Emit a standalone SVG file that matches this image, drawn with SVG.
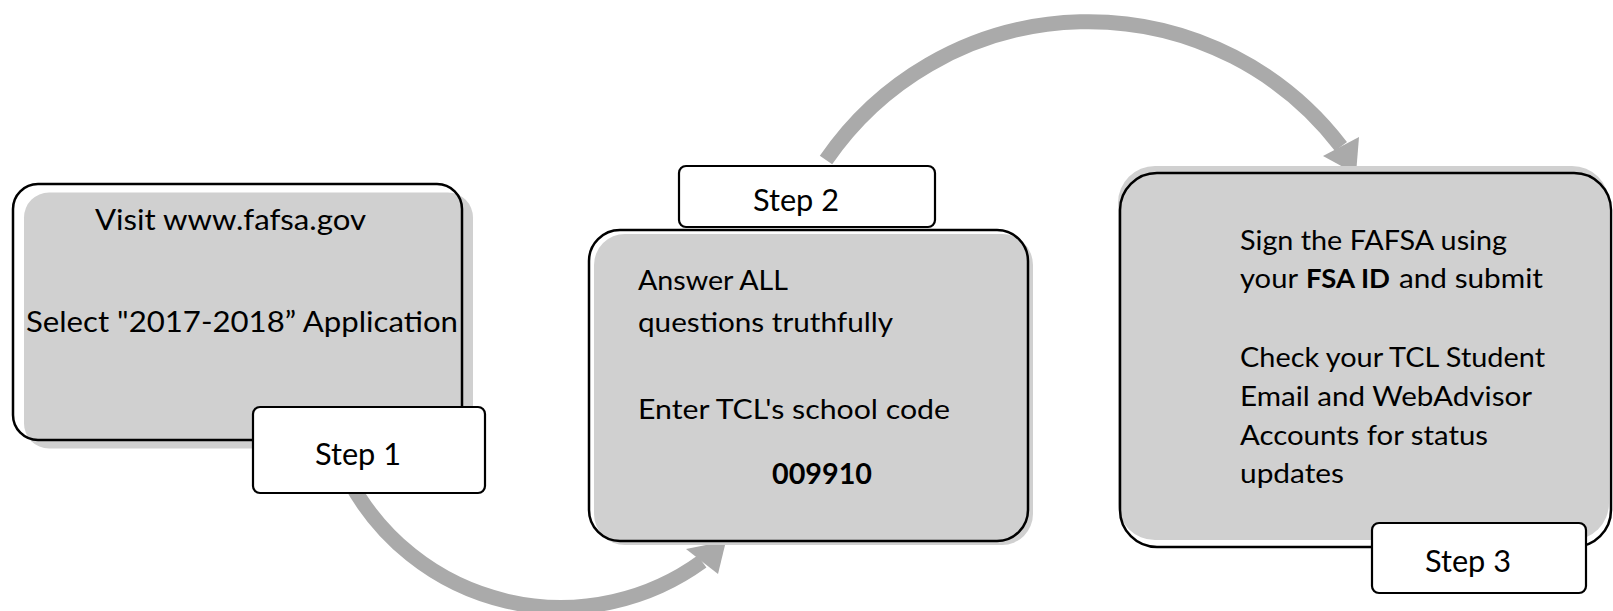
<svg xmlns="http://www.w3.org/2000/svg" width="1613" height="611" viewBox="0 0 1613 611">
<style>
.bg{fill:#ffffff}
.shade{fill:#D0D0D0;stroke:none}
.outline{fill:none;stroke:#000;stroke-width:2.5}
.step{fill:#ffffff;stroke:#000;stroke-width:2.2}
.arc{fill:none;stroke:#AAAAAA;stroke-width:15;stroke-linecap:butt}
.head{fill:#AAAAAA;stroke:none}
text{font-family:Lato,"Liberation Sans",sans-serif;fill:#000}
.t1{font-size:29px}
.t2{font-size:26px}
.ts{font-size:30px}
.b{font-weight:bold}
</style>
<rect class="bg" x="0" y="0" width="1613" height="611"/>
<g id="connectors">
<path class="arc" d="M349,480 A240,240 0 0 0 702,561.5"/>
<polygon class="head" points="686,549 726,541 718,574"/>
<path class="arc" d="M826,160 A318,318 0 0 1 1341,146.5"/>
<polygon class="head" points="1323,156 1359,137 1356,174"/>
</g>
<g id="node1">
<rect class="shade" x="24" y="192.5" width="449" height="256" rx="25"/>
<rect class="outline" x="13" y="184" width="449" height="256" rx="25"/>
<text class="t1" x="95" y="230" textLength="271" lengthAdjust="spacingAndGlyphs">Visit www.fafsa.gov</text>
<text class="t1" x="26" y="332" textLength="432" lengthAdjust="spacingAndGlyphs">Select "2017-2018” Application</text>
</g>
<g id="step1">
<rect class="step" x="253" y="407" width="232" height="86" rx="7"/>
<text class="ts" x="315" y="465" textLength="86" lengthAdjust="spacingAndGlyphs">Step 1</text>
</g>
<g id="node2">
<rect class="shade" x="594" y="234" width="439" height="311" rx="31"/>
<rect class="outline" x="589" y="230" width="439" height="311" rx="31"/>
<text class="t2" x="638" y="290" textLength="150" lengthAdjust="spacingAndGlyphs">Answer ALL</text>
<text class="t2" x="638" y="332" textLength="255" lengthAdjust="spacingAndGlyphs">questions truthfully</text>
<text class="t2" x="638" y="419" textLength="312" lengthAdjust="spacingAndGlyphs">Enter TCL's school code</text>
<text class="t1 b" x="772" y="484" textLength="100" lengthAdjust="spacingAndGlyphs">009910</text>
</g>
<g id="step2">
<rect class="step" x="679" y="166" width="256" height="61" rx="7"/>
<text class="ts" x="753" y="211" textLength="86" lengthAdjust="spacingAndGlyphs">Step 2</text>
</g>
<g id="node3">
<rect class="shade" x="1118" y="166" width="491" height="374" rx="37"/>
<rect class="outline" x="1120" y="173" width="491" height="374" rx="37"/>
<text class="t2" x="1240" y="250" textLength="267" lengthAdjust="spacingAndGlyphs">Sign the FAFSA using</text>
<text class="t2" x="1240" y="288" textLength="58" lengthAdjust="spacingAndGlyphs">your</text>
<text class="t2 b" x="1306" y="288" textLength="84" lengthAdjust="spacingAndGlyphs">FSA ID</text>
<text class="t2" x="1399" y="288" textLength="144" lengthAdjust="spacingAndGlyphs">and submit</text>
<text class="t2" x="1240" y="367" textLength="305" lengthAdjust="spacingAndGlyphs">Check your TCL Student</text>
<text class="t2" x="1240" y="406" textLength="292" lengthAdjust="spacingAndGlyphs">Email and WebAdvisor</text>
<text class="t2" x="1240" y="445" textLength="248" lengthAdjust="spacingAndGlyphs">Accounts for status</text>
<text class="t2" x="1240" y="483" textLength="104" lengthAdjust="spacingAndGlyphs">updates</text>
</g>
<g id="step3">
<rect class="step" x="1372" y="523" width="214" height="70" rx="7"/>
<text class="ts" x="1425" y="572" textLength="86" lengthAdjust="spacingAndGlyphs">Step 3</text>
</g>
</svg>
